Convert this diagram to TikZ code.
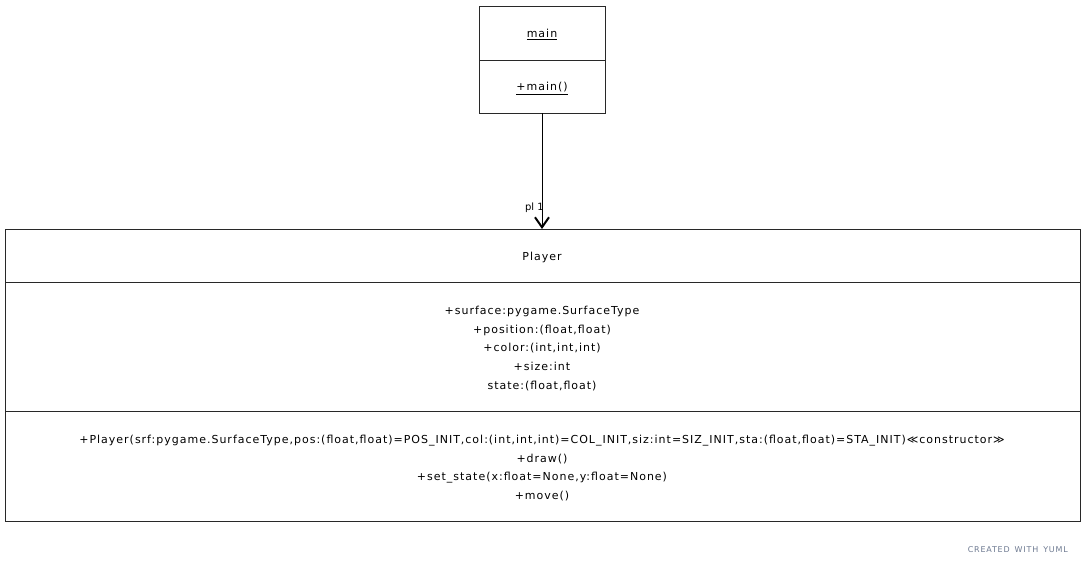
\documentclass[tikz,border=0pt]{standalone}
\usepackage{fontspec}
\setmainfont{DejaVu Sans}
\newfontfamily\umlfont[LetterSpace=9]{DejaVu Sans}
\newfontfamily\creditfont[LetterSpace=10]{DejaVu Sans}
\usetikzlibrary{arrows.meta}
\definecolor{credit}{RGB}{110,122,145}
\definecolor{edge}{RGB}{40,40,40}
\tikzset{
  box/.style={draw=edge, line width=0.9pt, fill=white},
  txt/.style={font=\umlfont\fontsize{11}{18.75}\selectfont, align=center, inner sep=0pt},
  assoc/.style={draw=black, line width=1pt, -{Straight Barb[length=10pt,width=14pt,line width=2pt]}},
}
\begin{document}
\begin{tikzpicture}[x=1pt,y=-1pt]
\useasboundingbox (0,0) rectangle (1085,565);
% main class
\draw[box] (479,6) rectangle (605,113);
\draw[line width=0.9pt, edge] (479,60) -- (605,60);
\node[txt] (mname) at (542,34.5) {\underline{main}};
\node[txt] (mop) at (542,88.5) {\underline{+main()}};
\coordinate (mbot) at (542,113);
% Player class
\draw[box] (5,229) rectangle (1080,521);
\draw[line width=0.9pt, edge] (5,282) -- (1080,282);
\draw[line width=0.9pt, edge] (5,411) -- (1080,411);
\coordinate (ptop) at (542,229);
\node[txt] (pname) at (542,257) {Player};
\node[txt] (pattr) at (542,348.5) {+surface:pygame.SurfaceType\\+position:(float,float)\\+color:(int,int,int)\\+size:int\\state:(float,float)};
\node[txt] (pops) at (542,468) {+Player(srf:pygame.SurfaceType,pos:(float,float)=POS\_INIT,col:(int,int,int)=COL\_INIT,siz:int=SIZ\_INIT,sta:(float,float)=STA\_INIT)≪constructor≫\\+draw()\\+set\_state(x:float=None,y:float=None)\\+move()};
% association
\draw[assoc] (mbot) -- (ptop);
\node[font=\fontsize{10}{11}\selectfont, anchor=east, inner sep=0pt] (lbl) at (544,207.5) {pl 1};
% credit
\node[font=\creditfont\fontsize{8}{9}\selectfont, text=credit, anchor=east, inner sep=0pt] (credit) at (1068,549.5) {CREATED\hspace{5pt}WITH\hspace{5pt}YUML};
\end{tikzpicture}
\end{document}
